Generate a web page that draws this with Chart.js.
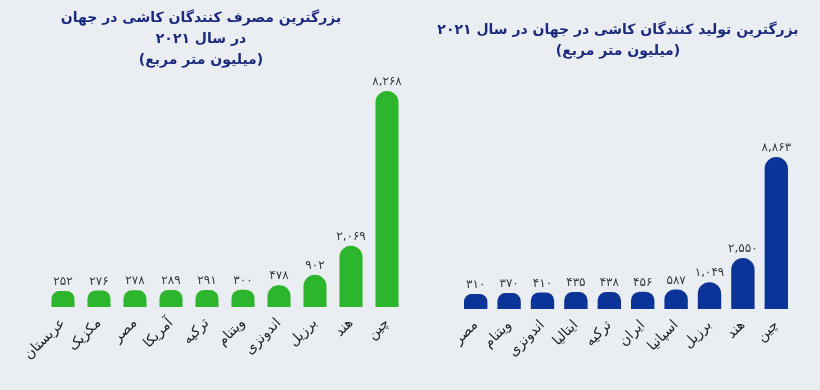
<!DOCTYPE html>
<html lang="fa">
<head>
<meta charset="utf-8">
<script src="https://cdn.jsdelivr.net/npm/chart.js@4"></script>
<style>
  html, body { margin: 0; padding: 0; background: #eaeef2; }
  #wrap { position: relative; width: 820px; height: 390px; overflow: hidden; font-family: "DejaVu Sans", sans-serif; }
  .box { position: absolute; top: 0; width: 410px; height: 390px; }
  .title {
    position: absolute; direction: rtl; text-align: center; white-space: nowrap;
    color: #1b2a7e; font-weight: bold; font-size: 14px; line-height: 21px;
  }
</style>
</head>
<body>
<div id="wrap">
  <div class="box" style="left:0"><canvas id="consumeChart" width="410" height="390"></canvas></div>
  <div class="box" style="left:410px"><canvas id="produceChart" width="410" height="390"></canvas></div>
  <div class="title" style="left:0; width:402px; top:7px">بزرگترین مصرف کنندگان کاشی در جهان<br>در سال ۲۰۲۱<br>(میلیون متر مربع)</div>
  <div class="title" style="left:410px; width:416px; top:19px">بزرگترین تولید کنندگان کاشی در جهان در سال ۲۰۲۱<br>(میلیون متر مربع)</div>
</div>
<script>
// consumption 2021 (million m2)
const consumeCountries = ['عربستان', 'مکزیک', 'مصر', 'آمریکا', 'ترکیه', 'ویتنام', 'اندونزی', 'برزیل', 'هند', 'چین'];
const consumeValues = [252, 276, 278, 289, 291, 300, 478, 902, 2069, 8268];

// production 2021 (million m2)
const produceCountries = ['مصر', 'ویتنام', 'اندونزی', 'ایتالیا', 'ترکیه', 'ایران', 'اسپانیا', 'برزیل', 'هند', 'چین'];
const produceValues = [310, 370, 410, 435, 438, 456, 587, 1049, 2550, 8863];

const faDigits = '۰۱۲۳۴۵۶۷۸۹';
function toFa(n) {
    return n.toLocaleString('en-US').replace(/\d/g, d => faDigits[d]);
}

// value labels above each bar
const valueLabels = {
    id: 'valueLabels',
    afterDatasetsDraw(chart) {
        const ctx = chart.ctx;
        const meta = chart.getDatasetMeta(0);
        ctx.save();
        ctx.font = '12px "DejaVu Sans", sans-serif';
        ctx.fillStyle = '#3a3a3a';
        ctx.textAlign = 'center';
        ctx.textBaseline = 'bottom';
        meta.data.forEach((bar, i) => {
            ctx.fillText(toFa(chart.data.datasets[0].data[i]), bar.x, bar.y - 3);
        });
        ctx.restore();
    }
};

function makeChart(id, labels, values, color, yMin, yMax, pad, barPct) {
    return new Chart(document.getElementById(id).getContext('2d'), {
        type: 'bar',
        data: {
            labels: labels,
            datasets: [{
                data: values,
                base: yMin, // bars grow from the bottom of the axis, not from 0
                backgroundColor: color,
                borderRadius: { topLeft: 12, topRight: 12 },
                borderSkipped: 'bottom',
                barPercentage: barPct,
                categoryPercentage: 1
            }]
        },
        options: {
            responsive: false,
            animation: false,
            layout: { padding: pad },
            plugins: {
                legend: { display: false },
                tooltip: { enabled: false }
            },
            scales: {
                x: {
                    grid: { display: false, drawTicks: false },
                    border: { display: false },
                    ticks: {
                        color: '#222',
                        font: { family: 'DejaVu Sans', size: 14 },
                        minRotation: 45,
                        maxRotation: 45,
                        padding: 8
                    },
                    afterFit: scale => { scale.height = 80; }
                },
                y: {
                    display: false,
                    min: yMin,
                    max: yMax
                }
            }
        },
        plugins: [valueLabels]
    });
}

makeChart('consumeChart', consumeCountries, consumeValues, '#2db52d', -390, 8708,
    { left: 45, right: 5, top: 80, bottom: 3 }, 0.64);
makeChart('produceChart', produceCountries, produceValues, '#0a3497', -626, 13669,
    { left: 49, right: 27, top: 80, bottom: 1 }, 0.7);
</script>
</body>
</html>
